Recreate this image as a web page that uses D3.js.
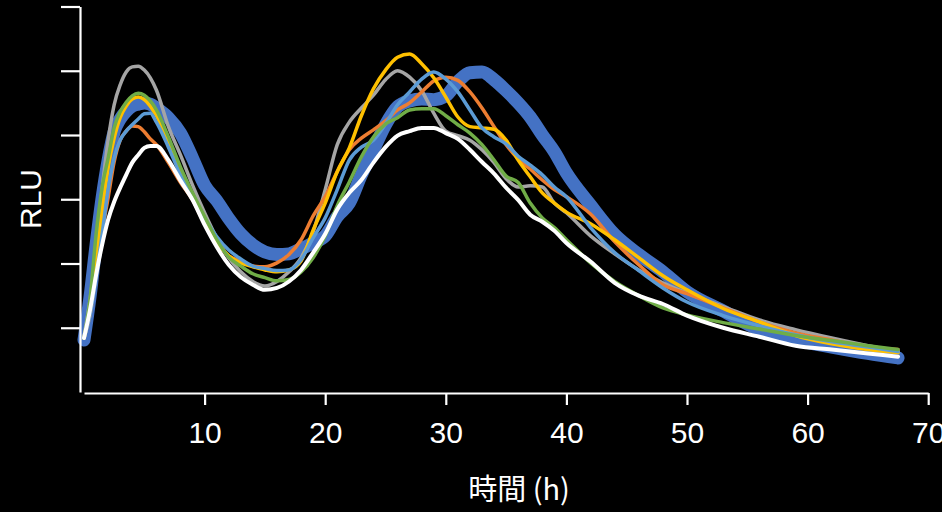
<!DOCTYPE html>
<html>
<head>
<meta charset="utf-8">
<script src="https://cdn.jsdelivr.net/npm/d3@7"></script>
<style>
  html, body { margin: 0; padding: 0; background: #000; }
  svg { display: block; }
</style>
</head>
<body>
<svg id="chart" width="942" height="512"></svg>
<script>
// Sampling times (hours)
const hours = [0,0.5,1,1.5,2,2.5,3,3.5,4,4.5,5,5.5,6,7,8,9,10,11,12,13,14,15,16,17,18,19,20,21,22,23,24,25,26,27,28,29,30,31,32,33,34,35,36,37,38,39,40,42,44,46,48,50,53,56,59,62,65,67.5];

// Luminescence traces (relative units)
const blueRLU = [-0.19,0.48,1.29,2.02,2.61,3.05,3.25,3.37,3.45,3.48,3.50,3.48,3.42,3.27,3.03,2.64,2.22,1.98,1.70,1.46,1.29,1.18,1.14,1.15,1.23,1.32,1.43,1.73,1.94,2.38,2.77,3.16,3.44,3.53,3.56,3.55,3.61,3.83,3.97,3.98,3.86,3.69,3.50,3.28,3.00,2.74,2.41,1.91,1.45,1.14,0.87,0.56,0.26,-0.03,-0.19,-0.30,-0.40,-0.47];
const grayRLU = [-0.14,0.44,1.21,2.15,2.92,3.47,3.78,3.98,4.06,4.07,4.01,3.89,3.70,3.13,2.69,2.22,1.79,1.40,1.09,0.87,0.72,0.65,0.72,0.87,1.09,1.49,2.15,2.85,3.20,3.42,3.62,3.86,4.00,3.90,3.69,3.34,3.06,2.99,2.92,2.77,2.57,2.32,2.19,2.21,2.19,1.94,1.79,1.43,1.15,0.90,0.70,0.54,0.33,0.12,-0.03,-0.16,-0.28,-0.37];
const orangeRLU = [-0.16,0.20,0.82,1.49,2.02,2.58,2.92,3.06,3.14,3.13,3.05,2.94,2.85,2.57,2.26,1.99,1.62,1.34,1.12,1.04,0.96,0.95,1.01,1.14,1.37,1.74,2.04,2.43,2.77,2.95,3.08,3.22,3.39,3.50,3.67,3.84,3.90,3.85,3.67,3.42,3.13,2.85,2.63,2.47,2.30,2.15,2.04,1.77,1.34,0.98,0.67,0.53,0.31,0.09,-0.08,-0.19,-0.30,-0.34];
const yellowRLU = [-0.16,0.28,1.03,1.80,2.49,2.95,3.27,3.45,3.56,3.59,3.55,3.45,3.30,2.88,2.46,2.05,1.68,1.34,1.12,1.01,0.95,0.90,0.87,0.90,1.04,1.52,1.94,2.43,2.80,3.30,3.72,4.01,4.21,4.26,4.11,3.89,3.59,3.28,3.13,3.11,3.09,2.92,2.61,2.35,2.10,1.94,1.80,1.62,1.37,1.09,0.81,0.59,0.30,0.09,-0.12,-0.25,-0.34,-0.39];
const lightBlueRLU = [-0.16,0.20,0.78,1.45,2.15,2.64,2.92,3.06,3.16,3.25,3.33,3.34,3.20,2.81,2.38,2.02,1.71,1.42,1.21,1.07,0.96,0.92,0.89,0.90,1.06,1.40,1.71,2.15,2.61,2.81,2.92,3.17,3.47,3.67,3.87,3.98,3.87,3.67,3.39,3.11,2.97,2.86,2.67,2.53,2.38,2.19,2.04,1.56,1.17,0.89,0.62,0.40,0.19,0.03,-0.11,-0.22,-0.30,-0.37];
const greenRLU = [-0.16,0.44,1.45,2.18,2.64,3.11,3.36,3.51,3.61,3.65,3.62,3.53,3.39,2.97,2.50,2.10,1.73,1.37,1.10,0.96,0.84,0.78,0.73,0.75,0.87,1.09,1.43,1.90,2.27,2.66,2.97,3.17,3.27,3.39,3.41,3.41,3.30,3.16,3.03,2.85,2.61,2.36,2.26,1.94,1.71,1.56,1.37,1.01,0.72,0.50,0.31,0.20,0.08,-0.02,-0.12,-0.20,-0.28,-0.34];
const whiteRLU = [-0.16,0.28,0.82,1.29,1.68,1.96,2.18,2.38,2.57,2.69,2.80,2.83,2.83,2.61,2.29,1.99,1.60,1.26,0.98,0.79,0.67,0.59,0.62,0.72,0.90,1.17,1.46,1.84,2.10,2.30,2.57,2.81,2.99,3.06,3.11,3.11,3.03,2.94,2.77,2.58,2.40,2.18,1.99,1.76,1.65,1.51,1.32,1.03,0.70,0.50,0.37,0.19,0.00,-0.14,-0.28,-0.34,-0.40,-0.45];

// Axis ticks
const xTicks = [10, 20, 30, 40, 50, 60, 70];
const yTicks = [0, 1, 2, 3, 4, 5];

const series = [
  { values: blueRLU,      color: "#4472C4", width: 13 },
  { values: grayRLU,      color: "#A5A5A5", width: 3.5 },
  { values: orangeRLU,    color: "#ED7D31", width: 3.5 },
  { values: yellowRLU,    color: "#FFC000", width: 3.5 },
  { values: lightBlueRLU, color: "#5B9BD5", width: 3.5 },
  { values: greenRLU,     color: "#70AD47", width: 3.5 },
  { values: whiteRLU,     color: "#FFFFFF", width: 4 }
];

const svg = d3.select("#chart");
svg.append("rect").attr("width", 942).attr("height", 512).attr("fill", "#000");

const x = d3.scaleLinear().domain([0, 70]).range([84, 928.2]);
const y = d3.scaleLinear().domain([-1, 5]).range([392, 6.5]);

const line = d3.line()
  .x((d, i) => x(hours[i]))
  .y(d => y(d))
  .curve(d3.curveMonotoneX);

const plot = svg.append("g");
series.forEach(s => {
  plot.append("path")
    .datum(s.values)
    .attr("d", line)
    .attr("fill", "none")
    .attr("stroke", s.color)
    .attr("stroke-width", s.width)
    .attr("stroke-linejoin", "round")
    .attr("stroke-linecap", "round");
});

// Y axis: ticks without labels
const yAxis = svg.append("g")
  .attr("transform", "translate(80,0)")
  .call(d3.axisLeft(y).tickValues(yTicks).tickSize(19).tickSizeOuter(0).tickFormat(""));

// X axis
const xAxis = svg.append("g")
  .attr("transform", "translate(0,393)")
  .call(d3.axisBottom(x).tickValues(xTicks).tickSize(12).tickSizeOuter(0).tickFormat(d3.format("d")));

[yAxis, xAxis].forEach(g => {
  g.select(".domain").attr("stroke", "#fff").attr("stroke-width", 2.2);
  g.selectAll(".tick line").attr("stroke", "#fff").attr("stroke-width", 2.2);
});

xAxis.selectAll(".tick text")
  .attr("y", 50)
  .attr("dy", 0)
  .attr("fill", "#fff")
  .style("font-family", "'Liberation Sans', Arial, sans-serif")
  .style("font-size", "30px");

// Axis titles
svg.append("text")
  .attr("x", 519)
  .attr("y", 500)
  .attr("text-anchor", "middle")
  .attr("fill", "#fff")
  .style("font-family", "'Noto Sans CJK JP', 'Liberation Sans', sans-serif")
  .style("font-size", "29px")
  .text("時間 (h)");

svg.append("text")
  .attr("transform", "translate(41,199) rotate(-90)")
  .attr("text-anchor", "middle")
  .attr("fill", "#fff")
  .style("font-family", "'Liberation Sans', Arial, sans-serif")
  .style("font-size", "30px")
  .text("RLU");
</script>
</body>
</html>
